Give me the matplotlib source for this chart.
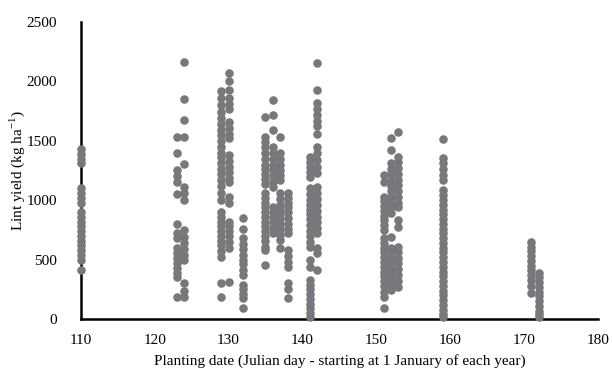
import matplotlib.pyplot as plt

plt.rcParams['font.family'] = ['Liberation Serif', 'DejaVu Serif']
plt.rcParams['mathtext.fontset'] = 'custom'
plt.rcParams['mathtext.rm'] = 'Liberation Serif'

# Planting day (Julian) and lint yield readings for each sowing column
days = [110, 123, 124, 129, 130, 132, 135, 136, 137, 138, 141, 142,
        151, 152, 153, 159, 171, 172]
yields = [
    # 110
    [1430, 1390, 1350, 1310, 1100, 1060, 1020, 980, 900, 860, 820, 780,
     740, 700, 660, 620, 580, 540, 500, 410],
    # 123
    [1530, 1400, 1250, 1200, 1150, 1050, 800, 720, 680, 600, 555, 510,
     470, 430, 390, 350, 185],
    # 124
    [2160, 1850, 1675, 1530, 1305, 1110, 1060, 1000, 750, 690, 640, 590,
     540, 500, 300, 240, 185],
    # 129
    [1920, 1860, 1800, 1740, 1690, 1640, 1590, 1550, 1500, 1450, 1400,
     1360, 1310, 1260, 1220, 1170, 1120, 1060, 1000, 900, 860, 820, 780,
     740, 700, 660, 620, 570, 520, 300, 185],
    # 130
    [2070, 2000, 1930, 1860, 1810, 1770, 1660, 1610, 1560, 1520, 1380,
     1330, 1280, 1240, 1190, 1150, 1030, 980, 820, 780, 740, 700, 650,
     600, 310],
    # 132
    [850, 760, 680, 630, 590, 540, 500, 460, 410, 370, 290, 250, 210,
     175, 90],
    # 135
    [1700, 1530, 1490, 1450, 1400, 1350, 1300, 1260, 1220, 1180, 1140,
     1060, 1020, 980, 940, 900, 860, 820, 780, 740, 700, 660, 610, 580,
     455],
    # 136
    [1840, 1720, 1590, 1450, 1400, 1350, 1300, 1250, 1200, 1150, 1110,
     940, 900, 860, 820, 770, 725],
    # 137
    [1530, 1400, 1350, 1300, 1250, 1210, 1170, 1060, 1010, 960, 920,
     880, 840, 800, 760, 710, 665, 600],
    # 138
    [1060, 1020, 980, 940, 900, 850, 800, 760, 725, 580, 530, 480, 440,
     300, 250, 180],
    # 141
    [1365, 1320, 1280, 1240, 1195, 1100, 1050, 1000, 960, 920, 880, 840,
     790, 740, 700, 650, 605, 500, 440, 330, 290, 250, 210, 170, 130, 90,
     50, 20],
    # 142
    [2155, 1930, 1820, 1770, 1720, 1670, 1620, 1560, 1450, 1400, 1340,
     1280, 1230, 1110, 1060, 1010, 960, 910, 860, 820, 770, 725, 600,
     555, 410],
    # 151
    [1210, 1150, 1030, 990, 950, 910, 870, 830, 790, 750, 680, 640, 600,
     560, 520, 480, 440, 400, 360, 320, 280, 230, 185, 95],
    # 152
    [1520, 1420, 1310, 1260, 1220, 1170, 1120, 1080, 1030, 980, 940, 890,
     690, 600, 560, 510, 470, 420, 380, 330, 290, 245],
    # 153
    [1575, 1365, 1320, 1270, 1220, 1170, 1130, 1080, 1030, 980, 940, 830,
     775, 605, 560, 510, 470, 420, 370, 320, 270],
    # 159
    [1515, 1355, 1310, 1260, 1210, 1170, 1085, 1040, 1000, 960, 920, 880,
     840, 800, 760, 720, 680, 640, 600, 560, 520, 480, 440, 400, 360,
     320, 280, 240, 200, 160, 120, 80, 40, 20],
    # 171
    [650, 610, 570, 530, 490, 450, 410, 370, 330, 280, 220],
    # 172
    [390, 350, 310, 270, 230, 190, 150, 110, 70, 40, 20],
]

x_ticks = [110, 120, 130, 140, 150, 160, 170, 180]
y_ticks = [0, 500, 1000, 1500, 2000, 2500]

fig = plt.figure(figsize=(6.12, 3.71), dpi=100)
ax = fig.add_axes([0.132, 0.14, 0.845, 0.801])

for d, ys in zip(days, yields):
    ax.scatter([d] * len(ys), ys, s=38, color='#77787b', linewidths=0,
               clip_on=False, zorder=3)

ax.set_xlim(110, 180)
ax.set_ylim(0, 2500)
ax.set_xticks(x_ticks)
ax.set_yticks(y_ticks)
ax.tick_params(axis='both', length=0, labelsize=11)
ax.tick_params(axis='y', pad=17)
ax.tick_params(axis='x', pad=11)

for side in ['top', 'right']:
    ax.spines[side].set_visible(False)
for side in ['left', 'bottom']:
    ax.spines[side].set_linewidth(1.8)
    ax.spines[side].set_color('black')

ax.set_xlabel('Planting date (Julian day - starting at 1 January of each year)',
              fontsize=11, labelpad=5)
ax.set_ylabel(r'Lint yield (kg ha$^{\mathregular{-1}}$)', fontsize=11,
              labelpad=0)

plt.savefig('out.png', dpi=100)
